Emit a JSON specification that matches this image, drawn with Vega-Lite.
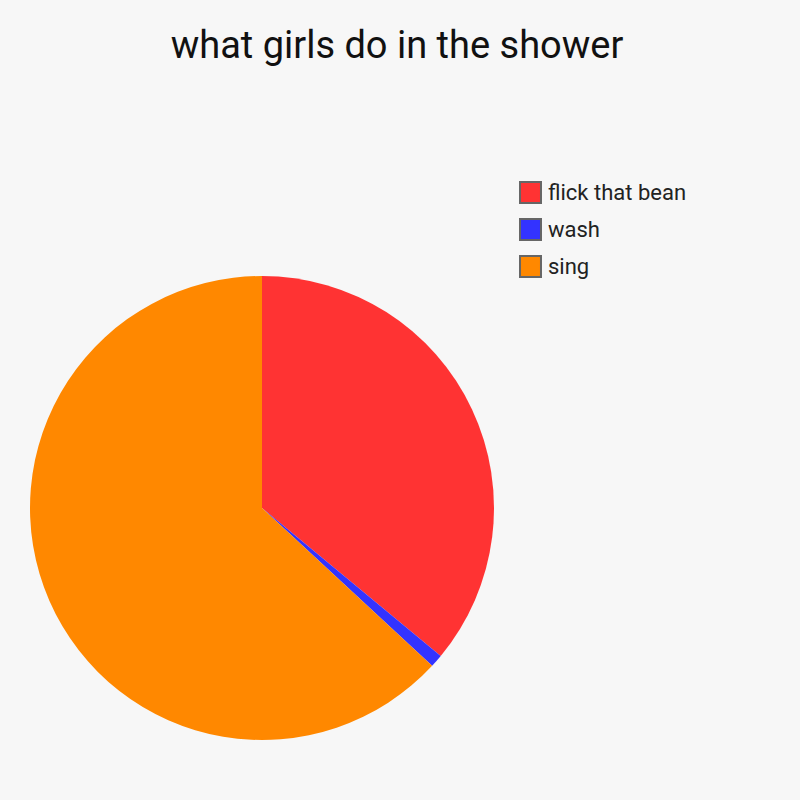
{
  "$schema": "https://vega.github.io/schema/vega-lite/v6.json",
  "autosize": {"type": "none"},
  "padding": {"left": 30, "top": 276, "right": 306, "bottom": 60},
  "width": 464,
  "height": 464,
  "background": "#f7f7f7",
  "title": {
    "text": "what girls do in the shower",
    "anchor": "middle",
    "dx": 135,
    "offset": 85,
    "baseline": "alphabetic",
    "font": "Roboto",
    "fontSize": 38,
    "fontWeight": "normal",
    "color": "#111111"
  },
  "data": {
    "values": [
      {"activity": "flick that bean", "share": 36, "rank": 1},
      {"activity": "wash", "share": 0.9, "rank": 2},
      {"activity": "sing", "share": 63.1, "rank": 3}
    ]
  },
  "mark": {"type": "arc", "outerRadius": 232},
  "encoding": {
    "theta": {"field": "share", "type": "quantitative", "stack": true},
    "order": {"field": "rank", "type": "quantitative"},
    "color": {
      "field": "activity",
      "type": "nominal",
      "scale": {
        "domain": ["flick that bean", "wash", "sing"],
        "range": ["#ff3333", "#3333ff", "#ff8800"]
      },
      "legend": {
        "title": null,
        "orient": "none",
        "legendX": 489,
        "legendY": -95,
        "symbolType": "square",
        "symbolSize": 440,
        "symbolStrokeColor": "#666666",
        "symbolStrokeWidth": 2,
        "symbolOpacity": 1,
        "labelFont": "Roboto",
        "labelFontSize": 22,
        "labelColor": "#222222",
        "labelOffset": 6,
        "rowPadding": 8
      }
    }
  },
  "config": {"view": {"stroke": null}}
}
